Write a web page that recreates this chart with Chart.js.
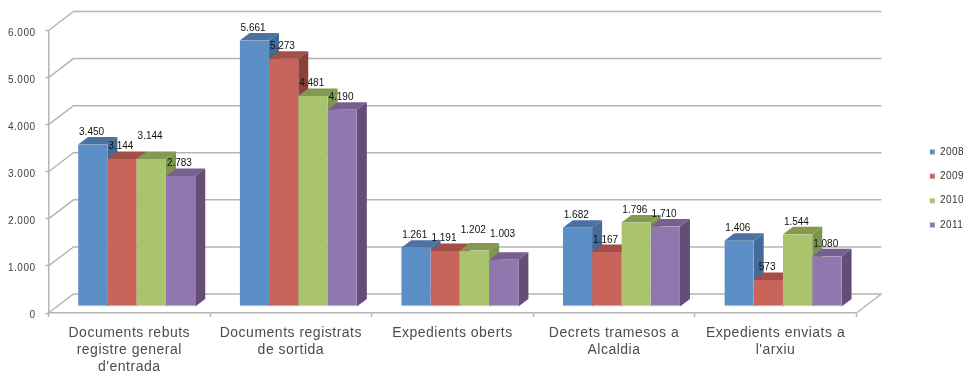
<!DOCTYPE html>
<html>
<head>
<meta charset="utf-8">
<style>
  html, body { margin: 0; padding: 0; background: #fff; }
  canvas { display: block; }
</style>
<script src="https://cdn.jsdelivr.net/npm/chart.js@4"></script>
</head>
<body>
<canvas id="chart" width="964" height="372"></canvas>
<script>
const categories = [
    ['Documents rebuts', 'registre general', "d'entrada"],
    ['Documents registrats', 'de sortida'],
    'Expedients oberts',
    ['Decrets tramesos a', 'Alcaldia'],
    ['Expedients enviats a', "l'arxiu"],
];
const years = ['2008', '2009', '2010', '2011'];
const values2008 = [3450, 5661, 1261, 1682, 1406];
const values2009 = [3144, 5273, 1191, 1167, 573];
const values2010 = [3144, 4481, 1202, 1796, 1544];
const values2011 = [2783, 4190, 1003, 1710, 1080];

const faceColors = ['#5b8fc6', '#c8645a', '#a9c46d', '#9078ae'];
const topColors = ['#4a73a3', '#a34e46', '#84994f', '#77608f'];
const sideColors = ['#446a98', '#8b4039', '#7d964d', '#644e78'];
const gridColor = '#b5b5b5';

// 3D look: bars sit a little in from the front of the floor
const barShift = { x: 7.4, y: -6 };
const barDepth = { x: 10, y: 7.5 };
const wallDepth = { x: 25, y: 19 };

// labels that were dragged up by hand in the original ("series,category": px)
const liftedLabels = { '2,0': 10, '2,2': 8, '3,2': 13 };

const formatValue = v => v.toLocaleString('de-DE');

const polygon = (ctx, color, pts) => {
    ctx.fillStyle = color;
    ctx.beginPath();
    pts.forEach(([x, y], i) => (i ? ctx.lineTo(x, y) : ctx.moveTo(x, y)));
    ctx.closePath();
    ctx.fill();
};

const fake3d = {
    id: 'fake3d',
    beforeDraw(chart) {
        chart.ctx.letterSpacing = '0.5px';
    },
    afterLayout(chart) {
        // the legend sits further right than the layout would put it
        const legend = chart.legend;
        const w = legend.width;
        legend.left = 915.5;
        legend.right = legend.left + w;
        legend.top = 0;
        legend.bottom = 377;
    },
    beforeDatasetsDraw(chart) {
        const { ctx, chartArea, scales } = chart;
        const { left, right } = chartArea;
        const y = scales.y;
        const zero = y.getPixelForValue(0);

        // wall gridlines and floor
        ctx.save();
        ctx.strokeStyle = gridColor;
        ctx.lineWidth = 1.5;
        y.ticks.forEach(tick => {
            const py = y.getPixelForValue(tick.value);
            ctx.beginPath();
            ctx.moveTo(left, py);
            ctx.lineTo(left + wallDepth.x, py - wallDepth.y);
            ctx.lineTo(right + wallDepth.x, py - wallDepth.y);
            ctx.stroke();
        });
        ctx.beginPath();
        ctx.moveTo(right + wallDepth.x, zero - wallDepth.y);
        ctx.lineTo(right, zero);
        ctx.stroke();
        ctx.restore();

        // bars, first series first so the later ones cover its side
        ctx.save();
        ctx.translate(barShift.x, barShift.y);
        chart.data.datasets.forEach((ds, i) => {
            chart.getDatasetMeta(i).data.forEach(bar => {
                const x0 = bar.x - bar.width / 2;
                const x1 = bar.x + bar.width / 2;
                const dx = barDepth.x;
                const dy = barDepth.y;
                polygon(ctx, topColors[i], [[x0, bar.y], [x0 + dx, bar.y - dy], [x1 + dx, bar.y - dy], [x1, bar.y]]);
                polygon(ctx, sideColors[i], [[x1, bar.y], [x1 + dx, bar.y - dy], [x1 + dx, bar.base - dy], [x1, bar.base]]);
                bar.draw(ctx);
            });
        });

        // value labels
        ctx.letterSpacing = '0px';
        ctx.font = '10px "Liberation Sans", Arial, sans-serif';
        ctx.fillStyle = '#111';
        ctx.textAlign = 'center';
        ctx.textBaseline = 'middle';
        chart.data.datasets.forEach((ds, i) => {
            chart.getDatasetMeta(i).data.forEach((bar, j) => {
                const lift = liftedLabels[i + ',' + j] || 0;
                ctx.fillText(formatValue(ds.data[j]), bar.x - 1.2, bar.y - 12.3 - lift);
            });
        });
        ctx.restore();
        return false;
    },
};

const series = [values2008, values2009, values2010, values2011];

new Chart(document.getElementById('chart'), {
    type: 'bar',
    data: {
        labels: categories,
        datasets: series.map((data, i) => ({
            label: years[i],
            data: data,
            backgroundColor: faceColors[i],
            borderColor: '#d9dde8',
            borderWidth: { top: 0, left: 0, right: 0, bottom: 1 },
            borderSkipped: false,
            barPercentage: 1,
            categoryPercentage: 0.725,
        })),
    },
    options: {
        responsive: false,
        animation: false,
        devicePixelRatio: 1,
        layout: { padding: { top: 30.5, right: 51, left: 0, bottom: 0 } },
        plugins: {
            title: { display: false },
            tooltip: { enabled: false },
            legend: {
                position: 'right',
                labels: {
                    boxWidth: 5,
                    boxHeight: 5,
                    padding: 14.4,
                    color: '#333',
                    font: { family: '"Liberation Sans", Arial, sans-serif', size: 10 },
                },
            },
        },
        scales: {
            x: {
                afterFit: s => { s.height = 59; },
                border: { color: gridColor, width: 1.5 },
                grid: { offset: true, drawOnChartArea: false, tickLength: 4, tickColor: gridColor, tickWidth: 1.5 },
                ticks: {
                    autoSkip: false,
                    maxRotation: 0,
                    padding: 7,
                    color: '#4d4d4d',
                    font: { family: '"Liberation Sans", Arial, sans-serif', size: 14, lineHeight: 1.24 },
                },
            },
            y: {
                min: 0,
                max: 6000,
                afterFit: s => { s.width = 48.5; },
                border: { color: gridColor, width: 1.5 },
                grid: { drawOnChartArea: false, tickLength: 3, tickColor: gridColor, tickWidth: 1.5 },
                ticks: {
                    stepSize: 1000,
                    padding: 10,
                    labelOffset: 2.5,
                    color: '#404040',
                    font: { family: '"Liberation Sans", Arial, sans-serif', size: 10 },
                    callback: formatValue,
                },
            },
        },
    },
    plugins: [fake3d],
});
</script>
</body>
</html>
